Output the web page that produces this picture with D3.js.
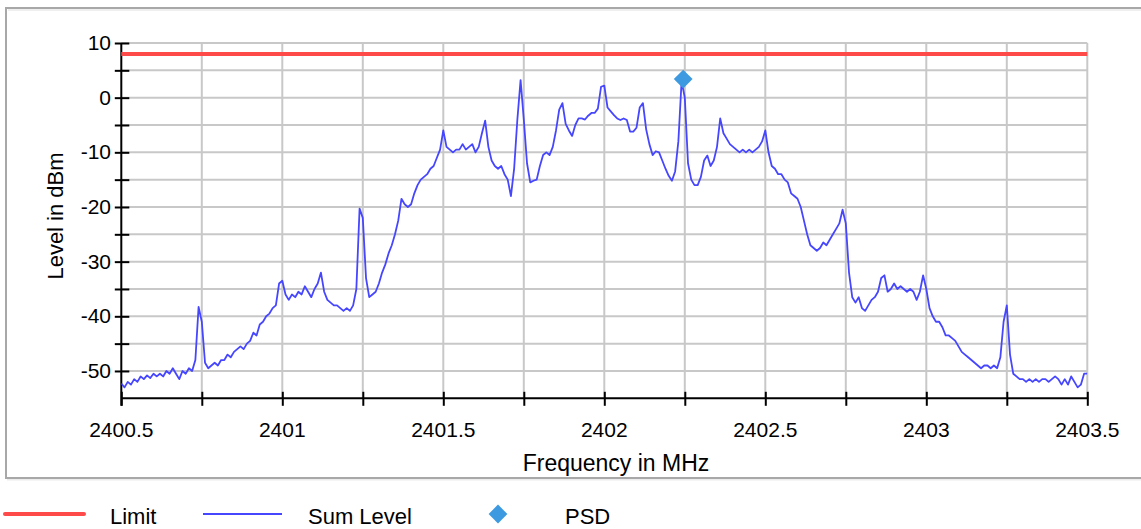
<!DOCTYPE html>
<html><head><meta charset="utf-8">
<script src="https://cdn.jsdelivr.net/npm/d3@7"></script>
<style>html,body{margin:0;padding:0;background:#fff;}svg{display:block;font-family:Arial,"Liberation Sans",sans-serif;}</style>
</head><body>
<svg id="chart" width="1141" height="529"></svg>
<script>
// ---- data ----
const freqs = [
2400.50,2400.51,2400.52,2400.53,2400.54,2400.55,2400.56,2400.57,2400.58,2400.59,
2400.60,2400.61,2400.62,2400.63,2400.64,2400.65,2400.66,2400.67,2400.68,2400.69,
2400.70,2400.71,2400.72,2400.73,2400.74,2400.75,2400.76,2400.77,2400.78,2400.79,
2400.80,2400.81,2400.82,2400.83,2400.84,2400.85,2400.86,2400.87,2400.88,2400.89,
2400.90,2400.91,2400.92,2400.93,2400.94,2400.95,2400.96,2400.97,2400.98,2400.99,
2401.00,2401.01,2401.02,2401.03,2401.04,2401.05,2401.06,2401.07,2401.08,2401.09,
2401.10,2401.11,2401.12,2401.13,2401.14,2401.15,2401.16,2401.17,2401.18,2401.19,
2401.20,2401.21,2401.22,2401.23,2401.24,2401.25,2401.26,2401.27,2401.28,2401.29,
2401.30,2401.31,2401.32,2401.33,2401.34,2401.35,2401.36,2401.37,2401.38,2401.39,
2401.40,2401.41,2401.42,2401.43,2401.44,2401.45,2401.46,2401.47,2401.48,2401.49,
2401.50,2401.51,2401.52,2401.53,2401.54,2401.55,2401.56,2401.57,2401.58,2401.59,
2401.60,2401.61,2401.62,2401.63,2401.64,2401.65,2401.66,2401.67,2401.68,2401.69,
2401.70,2401.71,2401.72,2401.73,2401.74,2401.75,2401.76,2401.77,2401.78,2401.79,
2401.80,2401.81,2401.82,2401.83,2401.84,2401.85,2401.86,2401.87,2401.88,2401.89,
2401.90,2401.91,2401.92,2401.93,2401.94,2401.95,2401.96,2401.97,2401.98,2401.99,
2402.00,2402.01,2402.02,2402.03,2402.04,2402.05,2402.06,2402.07,2402.08,2402.09,
2402.10,2402.11,2402.12,2402.13,2402.14,2402.15,2402.16,2402.17,2402.18,2402.19,
2402.20,2402.21,2402.22,2402.23,2402.24,2402.25,2402.26,2402.27,2402.28,2402.29,
2402.30,2402.31,2402.32,2402.33,2402.34,2402.35,2402.36,2402.37,2402.38,2402.39,
2402.40,2402.41,2402.42,2402.43,2402.44,2402.45,2402.46,2402.47,2402.48,2402.49,
2402.50,2402.51,2402.52,2402.53,2402.54,2402.55,2402.56,2402.57,2402.58,2402.59,
2402.60,2402.61,2402.62,2402.63,2402.64,2402.65,2402.66,2402.67,2402.68,2402.69,
2402.70,2402.71,2402.72,2402.73,2402.74,2402.75,2402.76,2402.77,2402.78,2402.79,
2402.80,2402.81,2402.82,2402.83,2402.84,2402.85,2402.86,2402.87,2402.88,2402.89,
2402.90,2402.91,2402.92,2402.93,2402.94,2402.95,2402.96,2402.97,2402.98,2402.99,
2403.00,2403.01,2403.02,2403.03,2403.04,2403.05,2403.06,2403.07,2403.08,2403.09,
2403.10,2403.11,2403.12,2403.13,2403.14,2403.15,2403.16,2403.17,2403.18,2403.19,
2403.20,2403.21,2403.22,2403.23,2403.24,2403.25,2403.26,2403.27,2403.28,2403.29,
2403.30,2403.31,2403.32,2403.33,2403.34,2403.35,2403.36,2403.37,2403.38,2403.39,
2403.40,2403.41,2403.42,2403.43,2403.44,2403.45,2403.46,2403.47,2403.48,2403.49,
2403.50];
const sumLevel = [
-52.3,-53,-52,-52.5,-51.5,-52,-51,-51.5,-50.8,-51.3,
-50.5,-51,-50.5,-51,-50,-50.5,-49.5,-50.5,-51.5,-50,
-50.5,-49.5,-50,-48,-38.3,-41,-48.5,-49.5,-49,-48.5,
-49,-48,-48,-47,-47.5,-46.5,-46,-45.5,-46,-45,
-44.5,-43,-43.5,-41.5,-41,-40,-39.5,-38.5,-38,-34,
-33.5,-36,-37,-36,-36.5,-35.5,-36,-34.5,-35.5,-36.5,
-35,-34,-32,-35.5,-37,-37.5,-38,-38,-38.5,-39,
-38.5,-39,-38,-35,-20.3,-22,-33,-36.5,-36,-35.5,
-34,-32,-30.5,-28.5,-27,-25,-22.5,-18.5,-19.5,-20,
-19.5,-17.5,-16,-15,-14.5,-14,-13,-12.5,-11,-9.5,
-6,-9,-9.5,-10,-9.5,-9.5,-8.5,-9.5,-9,-8.5,
-10,-9,-6.5,-4.2,-9,-11.5,-12.5,-13,-12.5,-14,
-15,-18,-13,-4,3.2,-4,-12,-15.5,-15.2,-15,
-12.5,-10.5,-10,-10.5,-9,-6,-2.2,-1,-4.8,-6,
-7,-5,-3.8,-3.8,-4,-3.3,-2.8,-2.8,-2,2,
2.2,-1.8,-2.5,-3.2,-3.8,-4.1,-3.8,-4.1,-6.2,-6.2,
-5.5,-1.8,-1,-5.8,-8.5,-10.5,-9.8,-10,-11.5,-13,
-14.3,-15.2,-13.5,-8,3,0,-12,-15,-16,-16,
-14.5,-11.5,-10.6,-12.5,-11.5,-9,-3.8,-6.5,-7.5,-8.5,
-9,-9.5,-10,-9.5,-10,-9.5,-10,-9.5,-9,-8,
-6,-10,-12.5,-13,-14,-14,-15,-15.5,-17.5,-18,
-18.5,-20,-22.5,-25,-27,-27.5,-28,-27.5,-26.5,-27,
-26,-25,-24,-23,-20.5,-23,-32,-36.5,-37.5,-36.5,
-38.5,-39,-38,-37,-36.5,-35.5,-33,-32.5,-35.5,-35,
-34,-35,-34.5,-35,-35.5,-35,-35.5,-37,-35.5,-32.5,
-35,-38.5,-40,-41,-41,-42,-43.5,-43.5,-44,-44.5,
-45.5,-46.5,-47,-47.5,-48,-48.5,-49,-49.5,-49,-49,
-49.5,-49,-49.5,-47.5,-41,-38,-47,-50.5,-51,-51.5,
-51.5,-52,-51.5,-52,-51.5,-52,-51.5,-51.5,-52,-51.5,
-51,-51.5,-52.5,-51.5,-52.5,-51,-52,-53,-52.5,-50.5,
-50.5];
const limitFreqs = [2400.5, 2403.5];
const limitLevels = [8, 8];
const psdFreq = [2402.245];
const psdLevel = [3.4];
const xTickValues = [2400.5, 2401, 2401.5, 2402, 2402.5, 2403, 2403.5];
const xMinorValues = [2400.75, 2401.25, 2401.75, 2402.25, 2402.75, 2403.25];
const yTickValues = [-50, -40, -30, -20, -10, 0, 10];
const yMinorValues = [-45, -35, -25, -15, -5, 5];
const legendItems = ["Limit", "Sum Level", "PSD"];

// ---- layout ----
const svg = d3.select("#chart");
const X0 = 121.3, X1 = 1087.3, Y0 = 398.3, Y1 = 43;
const x = d3.scaleLinear().domain([2400.5, 2403.5]).range([X0, X1]);
const y = d3.scaleLinear().domain([-55, 10]).range([Y0, Y1]);
const grey = "#c8c8c8";

svg.append("rect").attr("width", 1141).attr("height", 529).attr("fill", "#fff");
// frame
svg.append("line").attr("x1", 7).attr("x2", 1141).attr("y1", 479.5).attr("y2", 479.5).attr("stroke", "#ececec").attr("stroke-width", 2);
svg.append("rect").attr("x", 6).attr("y", 8).attr("width", 1160).attr("height", 470)
  .attr("fill", "none").attr("stroke", "#a8a8a8").attr("stroke-width", 2);
svg.append("line").attr("x1", 8).attr("x2", 1141).attr("y1", 10).attr("y2", 10).attr("stroke", "#efefef").attr("stroke-width", 2);

// grid
const allX = xTickValues.concat(xMinorValues).filter(v => v > 2400.5);
const allY = yTickValues.concat(yMinorValues);
svg.append("g").selectAll("line").data(allX).join("line")
  .attr("x1", d => x(d)).attr("x2", d => x(d)).attr("y1", Y1).attr("y2", Y0)
  .attr("stroke", grey).attr("stroke-width", 2);
svg.append("g").selectAll("line").data(allY).join("line")
  .attr("x1", X0).attr("x2", X1).attr("y1", d => y(d)).attr("y2", d => y(d))
  .attr("stroke", grey).attr("stroke-width", 2);

// axes
const xAxis = d3.axisBottom(x).tickValues(xTickValues.concat(xMinorValues)).tickSize(0).tickFormat("");
const yAxis = d3.axisLeft(y).tickValues(yTickValues.concat(yMinorValues)).tickSize(0).tickFormat("");
const gx = svg.append("g").attr("transform", `translate(0,${Y0})`).call(xAxis);
gx.select(".domain").remove();
gx.selectAll(".tick line").attr("y1", -6.5).attr("y2", 7.5).attr("stroke", "#000").attr("stroke-width", 2);
const gy = svg.append("g").attr("transform", `translate(${X0},0)`).call(yAxis);
gy.select(".domain").remove();
gy.selectAll(".tick line").attr("x1", -6.5).attr("x2", 8).attr("stroke", "#000").attr("stroke-width", 2);
svg.append("line").attr("x1", X0).attr("x2", X1 + 1).attr("y1", Y0).attr("y2", Y0).attr("stroke", "#000").attr("stroke-width", 2);
svg.append("line").attr("x1", X0).attr("x2", X0).attr("y1", Y1).attr("y2", Y0 + 7.5).attr("stroke", "#000").attr("stroke-width", 2);

// tick labels
svg.append("g").selectAll("text").data(xTickValues).join("text")
  .attr("x", d => x(d)).attr("y", 437).attr("text-anchor", "middle")
  .attr("font-size", 21).attr("fill", "#000").text(d => d3.format("")(d));
svg.append("g").selectAll("text").data(yTickValues).join("text")
  .attr("x", 111).attr("y", d => y(d) + 7).attr("text-anchor", "end")
  .attr("font-size", 21).attr("fill", "#000").text(d => d);

// axis titles
svg.append("text").attr("x", 616).attr("y", 471).attr("text-anchor", "middle")
  .attr("font-size", 23).attr("fill", "#000").text("Frequency in MHz");
svg.append("text").attr("transform", "translate(63,216) rotate(-90)").attr("text-anchor", "middle")
  .attr("font-size", 22).attr("fill", "#000").text("Level in dBm");

// data
svg.append("clipPath").attr("id", "clip").append("rect")
  .attr("x", X0).attr("y", Y1 - 5).attr("width", X1 - X0).attr("height", Y0 - Y1 + 5);
const limitData = limitFreqs.map((f, i) => [f, limitLevels[i]]);
svg.append("path").datum(limitData)
  .attr("d", d3.line().x(d => x(d[0])).y(d => y(d[1])))
  .attr("fill", "none").attr("stroke", "#ff4a4a").attr("stroke-width", 4);
const sumData = freqs.map((f, i) => [f, sumLevel[i]]);
svg.append("path").datum(sumData).attr("clip-path", "url(#clip)")
  .attr("d", d3.line().x(d => x(d[0])).y(d => y(d[1])))
  .attr("fill", "none").attr("stroke", "#4646ff").attr("stroke-width", 1.8).attr("stroke-linejoin", "round");
const diamond = d3.symbol().type(d3.symbolDiamond2).size(225);
svg.append("g").selectAll("path").data(psdFreq.map((f, i) => [f, psdLevel[i]])).join("path")
  .attr("transform", d => `translate(${x(d[0])},${y(d[1])})`)
  .attr("d", diamond).attr("fill", "#3d9ae0");

// legend
const lg = svg.append("g");
lg.append("line").attr("x1", 5).attr("x2", 84).attr("y1", 514).attr("y2", 514)
  .attr("stroke", "#ff4a4a").attr("stroke-width", 4).attr("stroke-linecap", "round");
lg.append("line").attr("x1", 203).attr("x2", 282).attr("y1", 514).attr("y2", 514)
  .attr("stroke", "#4646ff").attr("stroke-width", 1.8);
lg.append("path").attr("transform", "translate(498,514)").attr("d", diamond).attr("fill", "#3d9ae0");
const legX = [110, 308, 565];
lg.selectAll("text").data(legendItems).join("text")
  .attr("x", (d, i) => legX[i]).attr("y", 523.5).attr("font-size", 22).attr("fill", "#000").text(d => d);
</script>
</body></html>
